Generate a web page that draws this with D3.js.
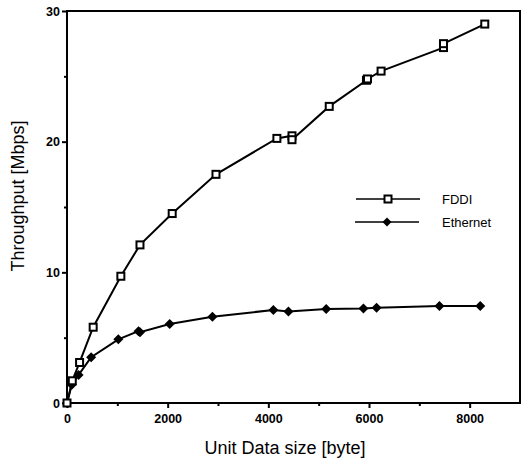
<!DOCTYPE html>
<html><head><meta charset="utf-8">
<script src="https://cdn.jsdelivr.net/npm/d3@7"></script>
<style>body{margin:0;background:#fff}svg{display:block}</style>
</head><body>
<svg id="c" width="526" height="459"></svg>
<script>
const fddiX = [0, 105, 250, 520, 1070, 1450, 2090, 2960, 4170, 4470, 4470, 5210, 5950, 5970, 6240, 7480, 7480, 8300];
const fddiY = [0, 1.7, 3.1, 5.8, 9.7, 12.1, 14.5, 17.5, 20.25, 20.45, 20.15, 22.7, 24.7, 24.8, 25.4, 27.2, 27.5, 29.0];
const ethX = [0, 95, 230, 480, 1020, 1420, 1450, 2040, 2890, 4100, 4400, 5150, 5890, 6150, 7400, 8210];
const ethY = [0, 1.4, 2.15, 3.5, 4.87, 5.5, 5.42, 6.04, 6.6, 7.12, 7.0, 7.19, 7.24, 7.29, 7.42, 7.42];
const xTicks = [0, 2000, 4000, 6000, 8000];
const xMinor = [1000, 3000, 5000, 7000];
const yTicks = [0, 10, 20, 30];
const yMinor = [5, 15, 25];
const seriesNames = ["FDDI", "Ethernet"];

const svg = d3.select("#c");
const x = d3.scaleLinear().domain([0, 9000]).range([67, 520]);
const y = d3.scaleLinear().domain([0, 30]).range([403, 11]);
const font = "'Liberation Sans', Arial, Helvetica, sans-serif";

// frame
svg.append("rect").attr("x", 67).attr("y", 11).attr("width", 520 - 67).attr("height", 403 - 11)
  .attr("fill", "none").attr("stroke", "#000").attr("stroke-width", 2);

// axes
const xAxis = svg.append("g").attr("transform", "translate(0,403)")
  .call(d3.axisBottom(x).tickValues(xTicks).tickSize(5).tickPadding(6).tickFormat(d3.format("d")));
const xAxisMinor = svg.append("g").attr("transform", "translate(0,403)")
  .call(d3.axisBottom(x).tickValues(xMinor).tickSize(3).tickFormat(""));
const yAxis = svg.append("g").attr("transform", "translate(67,0)")
  .call(d3.axisLeft(y).tickValues(yTicks).tickSize(5).tickPadding(2).tickFormat(d3.format("d")));
const yAxisMinor = svg.append("g").attr("transform", "translate(67,0)")
  .call(d3.axisLeft(y).tickValues(yMinor).tickSize(3).tickFormat(""));
[xAxis, xAxisMinor, yAxis, yAxisMinor].forEach(g => {
  g.select(".domain").remove();
  g.selectAll(".tick line").attr("stroke", "#000").attr("stroke-width", 2);
  g.selectAll(".tick text").attr("fill", "#000").attr("font-family", font)
    .attr("font-size", 12.5).attr("font-weight", "bold");
});

// axis titles
svg.append("text").attr("x", 285).attr("y", 454).attr("text-anchor", "middle")
  .attr("font-family", font).attr("font-size", 18).text("Unit Data size [byte]");
svg.append("text").attr("transform", "translate(24,196) rotate(-90)").attr("text-anchor", "middle")
  .attr("font-family", font).attr("font-size", 18).text("Throughput [Mbps]");

const line = d3.line().x(d => x(d[0])).y(d => y(d[1]));
const fddi = fddiX.map((v, i) => [v, fddiY[i]]);
const eth = ethX.map((v, i) => [v, ethY[i]]);

svg.append("path").datum(eth).attr("d", line).attr("fill", "none").attr("stroke", "#000").attr("stroke-width", 2);
svg.append("path").datum(fddi).attr("d", line).attr("fill", "none").attr("stroke", "#000").attr("stroke-width", 2);

const diamond = (cx, cy, r) => `M${cx},${cy - r}L${cx + r},${cy}L${cx},${cy + r}L${cx - r},${cy}Z`;
svg.append("g").selectAll("path").data(eth).join("path")
  .attr("d", d => diamond(x(d[0]), y(d[1]), 5)).attr("fill", "#000");
svg.append("g").selectAll("rect").data(fddi).join("rect")
  .attr("x", d => x(d[0]) - 3.5).attr("y", d => y(d[1]) - 3.5).attr("width", 7).attr("height", 7)
  .attr("fill", "#fff").attr("stroke", "#000").attr("stroke-width", 2);

// legend
const lg = svg.append("g");
lg.append("line").attr("x1", 356).attr("x2", 420).attr("y1", 199).attr("y2", 199).attr("stroke", "#000").attr("stroke-width", 1.5);
lg.append("rect").attr("x", 384.5).attr("y", 195.5).attr("width", 7).attr("height", 7)
  .attr("fill", "#fff").attr("stroke", "#000").attr("stroke-width", 2);
lg.append("line").attr("x1", 355).attr("x2", 419).attr("y1", 222).attr("y2", 222).attr("stroke", "#000").attr("stroke-width", 1.5);
lg.append("path").attr("d", diamond(387, 222, 4.5)).attr("fill", "#000");
lg.append("text").attr("x", 442).attr("y", 203.5).attr("font-family", font).attr("font-size", 13).text(seriesNames[0]);
lg.append("text").attr("x", 442).attr("y", 227).attr("font-family", font).attr("font-size", 13).text(seriesNames[1]);
</script>
</body></html>
